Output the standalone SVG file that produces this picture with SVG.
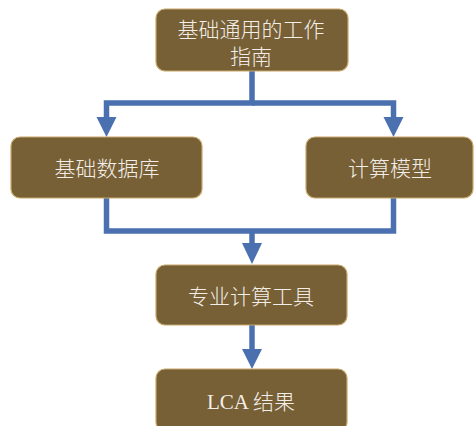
<svg xmlns="http://www.w3.org/2000/svg" width="474" height="426" viewBox="0 0 474 426">
<defs>
<style>
.box{fill:#775F36;stroke:#C8A86A;stroke-width:1.2}
.t{font-family:"Liberation Serif","Noto Sans CJK SC",serif;font-size:21px;font-weight:300;fill:#F3EFE8;text-anchor:middle}
.ln{fill:none;stroke:#4A70B0;stroke-width:5.5;stroke-linejoin:miter}
.ah{fill:#4A70B0}
</style>
</defs>
<rect width="474" height="426" fill="#FFFFFF"/>
<g id="connectors">
<polyline class="ln" points="252,71 252,103 106.5,103 106.5,120"/>
<polyline class="ln" points="252,103 393.5,103 393.5,120"/>
<polygon class="ah" points="96.5,117 116.5,117 106.5,137"/>
<polygon class="ah" points="383.5,117 403.5,117 393.5,137"/>
<polyline class="ln" points="106.5,198 106.5,231 393.5,231 393.5,198"/>
<line class="ln" x1="252" y1="231" x2="252" y2="246"/>
<polygon class="ah" points="242,243 262,243 252,264"/>
<line class="ln" x1="252" y1="325" x2="252" y2="352"/>
<polygon class="ah" points="242,349 262,349 252,369"/>
</g>
<g id="node-guide">
<rect class="box" x="156" y="9" width="192" height="62" rx="9"/>
<text class="t" x="251" y="37">基础通用的工作</text>
<text class="t" x="251" y="64">指南</text>
</g>
<g id="node-database">
<rect class="box" x="11" y="137" width="191" height="61" rx="9"/>
<text class="t" x="107" y="176">基础数据库</text>
</g>
<g id="node-model">
<rect class="box" x="306" y="137" width="167" height="61" rx="9"/>
<text class="t" x="390" y="176">计算模型</text>
</g>
<g id="node-tool">
<rect class="box" x="156" y="265" width="191" height="60" rx="9"/>
<text class="t" x="251" y="304">专业计算工具</text>
</g>
<g id="node-result">
<rect class="box" x="156" y="369" width="191" height="62" rx="9"/>
<text class="t" x="251" y="409">LCA 结果</text>
</g>
</svg>
